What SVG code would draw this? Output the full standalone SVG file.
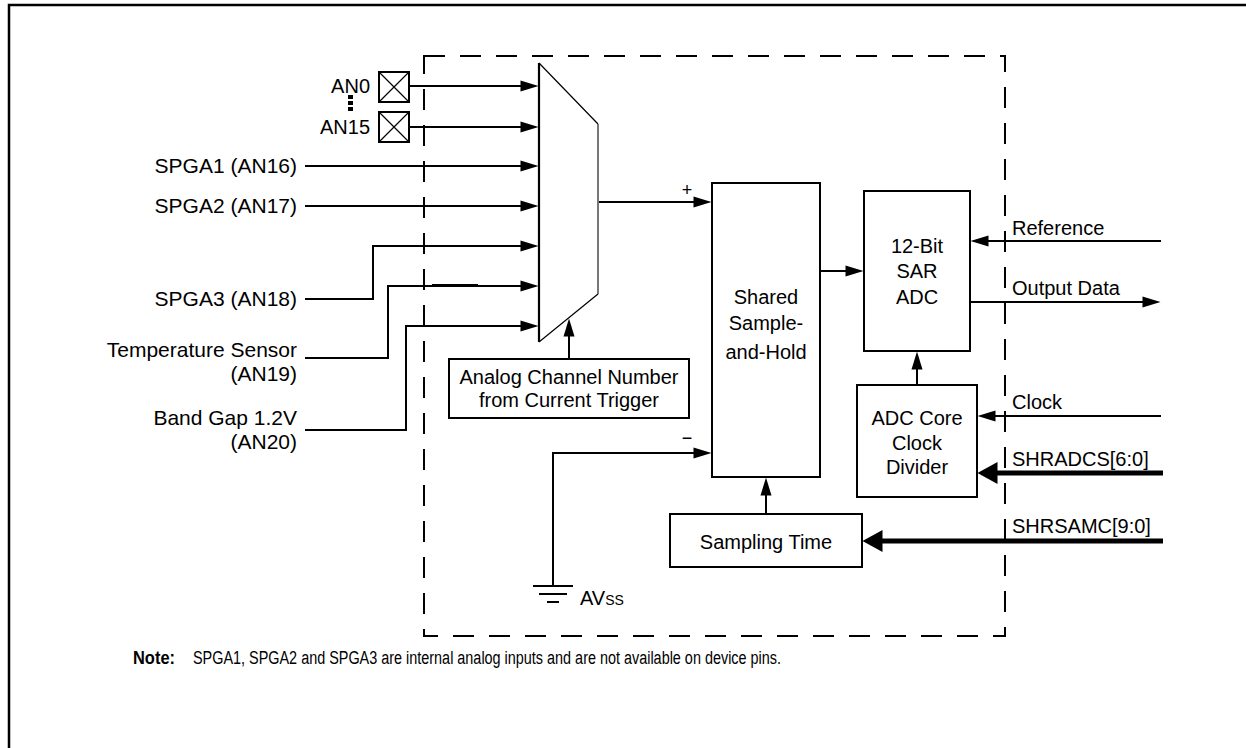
<svg xmlns="http://www.w3.org/2000/svg" width="1246" height="748" viewBox="0 0 1246 748">
<defs>
<style>
text{font-family:"Liberation Sans",Arial,sans-serif;font-size:20px;fill:#000}
.m{text-anchor:middle}
.e{text-anchor:end}
.lbl{font-size:21px}
.box{fill:#fff;stroke:#000;stroke-width:2}
.w{fill:none;stroke:#000;stroke-width:2}
.bus{fill:none;stroke:#000;stroke-width:5}
.thin{fill:none;stroke:#000;stroke-width:1.2}
</style>
<marker id="ar" markerUnits="userSpaceOnUse" markerWidth="20" markerHeight="12" refX="0.5" refY="5.5" orient="auto" overflow="visible"><path d="M0,0 L18,5.5 L0,11 z" fill="#000"/></marker>
<marker id="ab" markerUnits="userSpaceOnUse" markerWidth="22" markerHeight="24" refX="0.5" refY="11" orient="auto" overflow="visible"><path d="M0,0 L20,11 L0,22 z" fill="#000"/></marker>
</defs>
<rect width="1246" height="748" fill="#fff"/>
<path d="M9,748 V5 H1246" fill="none" stroke="#000" stroke-width="2.5"/>
<rect id="boundary" x="424" y="56" width="581" height="580" fill="none" stroke="#000" stroke-width="2" stroke-dasharray="21 15"/>

<g id="connectors">
  <path class="w" d="M409,86 H521" marker-end="url(#ar)"/>
  <path class="w" d="M409,127 H521" marker-end="url(#ar)"/>
  <path class="w" d="M305,166 H521" marker-end="url(#ar)"/>
  <path class="w" d="M305,206 H521" marker-end="url(#ar)"/>
  <path class="w" d="M305,299 H373 V246 H521" marker-end="url(#ar)"/>
  <path class="w" d="M305,358 H388 V286 H521" marker-end="url(#ar)"/>
  <path class="w" d="M432,285 H478"/>
  <path class="w" d="M305,430 H406 V326 H521" marker-end="url(#ar)"/>
  <path class="w" d="M599,202 H694" marker-end="url(#ar)"/>
  <path class="w" d="M553,586 V453 H694" marker-end="url(#ar)"/>
  <path class="w" d="M569,359 V336" marker-end="url(#ar)"/>
  <path class="w" d="M820,271 H846" marker-end="url(#ar)"/>
  <path class="w" d="M1161,241 H988" marker-end="url(#ar)"/>
  <path class="w" d="M970,302 H1143" marker-end="url(#ar)"/>
  <path class="w" d="M917,385 V369" marker-end="url(#ar)"/>
  <path class="w" d="M1161,416 H995" marker-end="url(#ar)"/>
  <path class="w" d="M766,514 V495" marker-end="url(#ar)"/>
  <path class="bus" d="M1163,473 H997" marker-end="url(#ab)"/>
  <path class="bus" d="M1163,541 H882" marker-end="url(#ab)"/>
</g>

<g id="an0">
  <text class="e" x="370" y="93">AN0</text>
  <rect class="box" x="379" y="72" width="30" height="30"/>
  <path class="thin" d="M379,72 L409,102 M409,72 L379,102"/>
</g>
<g id="dots">
  <rect x="348" y="95" width="5" height="4" fill="#000"/>
  <rect x="348" y="101" width="5" height="4" fill="#000"/>
  <rect x="348" y="107" width="5" height="4" fill="#000"/>
</g>
<g id="an15">
  <text class="e" x="370" y="134">AN15</text>
  <rect class="box" x="379" y="112" width="30" height="30"/>
  <path class="thin" d="M379,112 L409,142 M409,112 L379,142"/>
</g>
<g id="spga1"><text class="e lbl" x="297" y="173">SPGA1 (AN16)</text></g>
<g id="spga2"><text class="e lbl" x="297" y="213">SPGA2 (AN17)</text></g>
<g id="spga3"><text class="e lbl" x="297" y="306">SPGA3 (AN18)</text></g>
<g id="temp"><text class="e lbl" x="297" y="357">Temperature Sensor</text><text class="e lbl" x="297" y="381">(AN19)</text></g>
<g id="bandgap"><text class="e lbl" x="297" y="425">Band Gap 1.2V</text><text class="e lbl" x="297" y="449">(AN20)</text></g>

<g id="mux">
  <polygon points="539,63 598,124 598,294 539,342" fill="#fff" stroke="none"/>
  <path d="M539,63 V342" fill="none" stroke="#000" stroke-width="2.2"/>
  <path class="thin" d="M539,63 L598,124 M598,294 L539,342"/>
  <path d="M598,124 V294" fill="none" stroke="#555" stroke-width="1.6"/>
</g>

<g id="channel">
  <rect class="box" x="449" y="359" width="240" height="59"/>
  <text class="m" x="569" y="384">Analog Channel Number</text>
  <text class="m" x="569" y="407">from Current Trigger</text>
</g>

<g id="samplehold">
  <rect class="box" x="712" y="183" width="108" height="294"/>
  <text class="m" x="766" y="304">Shared</text>
  <text class="m" x="766" y="330">Sample-</text>
  <text class="m" x="766" y="359">and-Hold</text>
  <text class="m" x="687" y="196" style="font-size:18px">+</text>
  <text class="m" x="687" y="444" style="font-size:18px">−</text>
</g>

<g id="sar">
  <rect class="box" x="864" y="191" width="106" height="160"/>
  <text class="m" x="917" y="253">12-Bit</text>
  <text class="m" x="917" y="278">SAR</text>
  <text class="m" x="917" y="304">ADC</text>
</g>

<g id="clockdiv">
  <rect class="box" x="857" y="385" width="120" height="112"/>
  <text class="m" x="917" y="425">ADC Core</text>
  <text class="m" x="917" y="450">Clock</text>
  <text class="m" x="917" y="474">Divider</text>
</g>

<g id="sampling">
  <rect class="box" x="670" y="514" width="192" height="53"/>
  <text class="m" x="766" y="549">Sampling Time</text>
</g>

<g id="ground">
  <path d="M533,586 H573 M539,594 H567 M547,602 H559" fill="none" stroke="#000" stroke-width="2"/>
  <text x="580" y="605">AV<tspan style="font-size:14px">SS</tspan></text>
</g>

<g id="labels">
  <text x="1012" y="235">Reference</text>
  <text x="1012" y="295">Output Data</text>
  <text x="1012" y="409">Clock</text>
  <text x="1012" y="466">SHRADCS[6:0]</text>
  <text x="1012" y="533">SHRSAMC[9:0]</text>
</g>

<g id="note">
  <text x="133" y="664" style="font-size:18px;font-weight:bold" textLength="42" lengthAdjust="spacingAndGlyphs">Note:</text>
  <text x="193" y="664" style="font-size:18px" textLength="588" lengthAdjust="spacingAndGlyphs">SPGA1, SPGA2 and SPGA3 are internal analog inputs and are not available on device pins.</text>
</g>
</svg>
